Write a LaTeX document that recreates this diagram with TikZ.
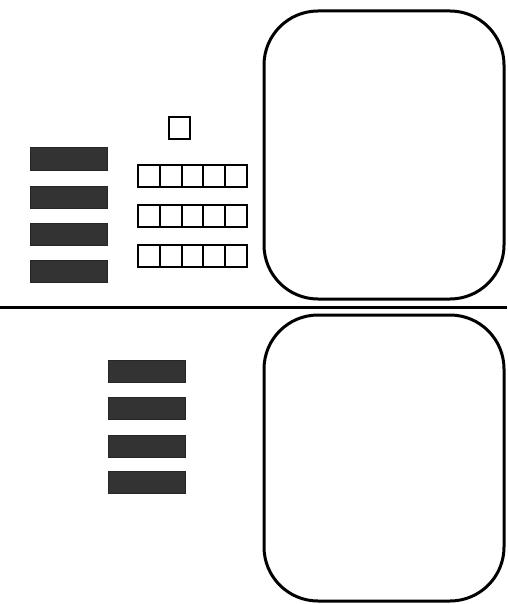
\documentclass[tikz,border=0pt]{standalone}
\usetikzlibrary{positioning}

\begin{document}
\begin{tikzpicture}[x=1pt, y=-1pt,
  bar/.style={draw=black!85, fill=black!80, line width=1pt, minimum width=77pt, minimum height=22pt, inner sep=0pt, outer sep=0pt},
  cell/.style={draw, line width=2pt, minimum width=21.8pt, minimum height=22pt, inner sep=0pt, outer sep=0pt},
  panel/.style={draw, line width=3pt, rounded corners=54pt, minimum width=240pt, inner sep=0pt, outer sep=0pt}
]
  \useasboundingbox (0,0) rectangle (507,604);

  % upper half
  \node[bar] (u1) at (69,159) {};
  \node[bar] (u2) at (69,197) {};
  \node[bar] (u3) at (69,234) {};
  \node[bar] (u4) at (69,271) {};

  \node[cell] (top) at (179.5,128) {};
  \foreach \r/\y in {1/175.5, 2/215.5, 3/255.5}
    \foreach \c in {1,...,5}
      \node[cell] (r\r c\c) at ({127.1+21.8*\c},\y) {};

  \node[panel, minimum height=288pt] (p1) at (384,155) {};

  % divider
  \coordinate (dl) at (0,307);
  \coordinate (dr) at (507,307);
  \draw[line width=3pt] (dl) -- (dr);

  % lower half
  \node[bar] (d1) at (147,371) {};
  \node[bar] (d2) at (147,408) {};
  \node[bar] (d3) at (147,446) {};
  \node[bar] (d4) at (147,482) {};

  \node[panel, minimum height=286pt] (p2) at (384,458) {};
\end{tikzpicture}
\end{document}
